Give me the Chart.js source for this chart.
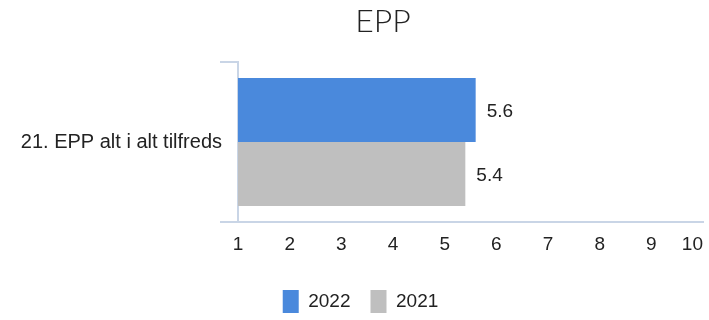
<!DOCTYPE html>
<html>
<head>
<meta charset="utf-8">
<script src="https://cdn.jsdelivr.net/npm/chart.js@4"></script>
<style>
  html, body { margin: 0; padding: 0; background: #fff; }
  #wrap { width: 709px; height: 320px; }
</style>
</head>
<body>
<div id="wrap"><canvas id="c" width="709" height="320"></canvas></div>
<script>
const chartTitle = 'EPP';
const categories = ['21. EPP alt i alt tilfreds'];
const seriesNames = ['2022', '2021'];
const values2022 = [5.6];
const values2021 = [5.4];
const xTicks = [1, 2, 3, 4, 5, 6, 7, 8, 9, 10];

const axisColor = '#c9d5e6';
const textColor = '#222222';
const baseFont = '"Liberation Sans", Arial, sans-serif';

// Title drawn slightly right of centre, above the plot
const titlePlugin = {
  id: 'sideTitle',
  afterDraw(chart) {
    const ctx = chart.ctx;
    ctx.save();
    ctx.font = '300 32px Lato, "Open Sans", sans-serif';
    ctx.fillStyle = textColor;
    ctx.textAlign = 'center';
    ctx.textBaseline = 'middle';
    ctx.fillText(chartTitle, 383, 22);
    ctx.restore();
  }
};

// Keep the last x tick label inside the canvas by right-aligning it on its tick
const lastTickInside = {
  id: 'lastTickInside',
  beforeDraw(chart) {
    const items = chart.scales.x.getLabelItems();
    if (items.length) items[items.length - 1].options.textAlign = 'right';
  }
};

// Value printed just past the end of each bar
const valueLabels = {
  id: 'valueLabels',
  afterDatasetsDraw(chart) {
    const ctx = chart.ctx;
    ctx.save();
    ctx.font = '19px ' + baseFont;
    ctx.fillStyle = textColor;
    ctx.textAlign = 'left';
    ctx.textBaseline = 'middle';
    chart.data.datasets.forEach((ds, i) => {
      chart.getDatasetMeta(i).data.forEach((bar, j) => {
        ctx.fillText(ds.data[j].toFixed(1), bar.x + 11, bar.y + 2);
      });
    });
    ctx.restore();
  }
};

new Chart(document.getElementById('c'), {
  type: 'bar',
  data: {
    labels: categories,
    datasets: [
      { label: seriesNames[0], data: values2022, backgroundColor: '#4a89dc' },
      { label: seriesNames[1], data: values2021, backgroundColor: '#bfbfbf' }
    ]
  },
  options: {
    indexAxis: 'y',
    responsive: false,
    animation: false,
    layout: { padding: { top: 62, left: 18, right: 6, bottom: -3 } },
    datasets: { bar: { barPercentage: 1, categoryPercentage: 0.8 } },
    scales: {
      x: {
        min: 1,
        max: 10,
        afterBuildTicks(scale) { scale.ticks = xTicks.map(v => ({ value: v })); },
        afterFit(scale) { scale.height = 48; scale.paddingRight = 0; },
        grid: { display: false, drawTicks: false },
        border: { display: true, color: axisColor, width: 2 },
        ticks: {
          color: textColor,
          padding: 11,
          font: { size: 19, family: baseFont }
        }
      },
      y: {
        afterFit(scale) { scale.width = 220; },
        grid: { drawOnChartArea: false, drawTicks: true, tickLength: 18, color: axisColor, lineWidth: 2 },
        border: { display: true, color: axisColor, width: 2 },
        ticks: {
          color: textColor,
          padding: -2,
          font: { size: 20, family: baseFont }
        }
      }
    },
    plugins: {
      title: { display: false },
      tooltip: { enabled: false },
      legend: {
        position: 'bottom',
        labels: {
          boxWidth: 16,
          boxHeight: 23,
          padding: 20,
          color: textColor,
          font: { size: 19, family: baseFont }
        }
      }
    }
  },
  plugins: [titlePlugin, lastTickInside, valueLabels]
});
</script>
</body>
</html>
